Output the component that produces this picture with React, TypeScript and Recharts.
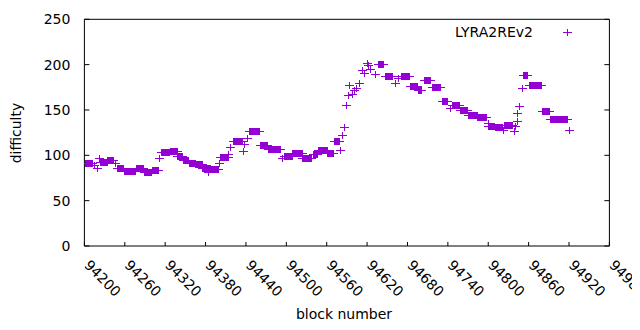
import React from 'react';
import { ScatterChart, Scatter, XAxis, YAxis } from 'recharts';

// Runs of constant difficulty: first block, last block, value
const runStart = [
  94201, 94214, 94218, 94222, 94223, 94234, 94245, 94249, 94259, 94277,
  94289, 94300, 94311, 94314, 94327, 94338, 94346, 94355, 94365, 94375,
  94384, 94387, 94400, 94401, 94414, 94417, 94421, 94435, 94437, 94441,
  94445, 94461, 94473, 94493, 94497, 94509, 94524, 94539, 94547, 94561,
  94571, 94580, 94582, 94585, 94589, 94591, 94593, 94598, 94601, 94603,
  94608, 94613, 94616, 94620, 94622, 94625, 94632, 94636, 94646, 94661,
  94666, 94670, 94684, 94695, 94705, 94716, 94731, 94743, 94746, 94748,
  94758, 94770, 94784, 94799, 94800, 94810, 94822, 94823, 94838, 94840,
  94842, 94843, 94846, 94850, 94852, 94860, 94880, 94892, 94920,
];
const runEnd = [
  94212, 94215, 94218, 94222, 94233, 94243, 94245, 94258, 94275, 94287,
  94299, 94309, 94311, 94326, 94337, 94345, 94354, 94364, 94374, 94386,
  94384, 94398, 94400, 94413, 94414, 94417, 94434, 94435, 94437, 94441,
  94460, 94472, 94490, 94493, 94508, 94523, 94537, 94546, 94560, 94570,
  94578, 94580, 94582, 94585, 94589, 94591, 94593, 94598, 94601, 94603,
  94608, 94613, 94616, 94620, 94622, 94625, 94632, 94644, 94657, 94661,
  94666, 94683, 94694, 94700, 94713, 94728, 94739, 94743, 94746, 94757,
  94769, 94783, 94797, 94799, 94809, 94821, 94822, 94836, 94838, 94840,
  94842, 94843, 94846, 94850, 94858, 94878, 94890, 94917, 94920,
];
const runValue = [
  91.5, 89, 86.5, 97.5, 92.5, 94.5, 92, 86, 82.5, 85.5,
  81.5, 83.5, 96.5, 103.3, 104.7, 99, 95, 91, 90, 86.4,
  82, 84.5, 91, 98, 102, 109.5, 115.3, 104.5, 112, 118.6,
  126.4, 111.3, 107.5, 96.5, 99.5, 102.2, 97.5, 101.5, 105.8, 102.2,
  115.4, 105.8, 122.4, 131, 155.4, 166.5, 177.5, 167.2, 171.5, 174.5,
  179.4, 194, 190.4, 201.4, 199.5, 195, 190, 200.5, 188, 180,
  185, 188, 176.5, 172.5, 183, 175, 160, 152, 155, 155.5,
  149.5, 144.8, 142, 135.5, 132.5, 131.5, 127.5, 133.5, 127.2, 132,
  138, 146.3, 154.3, 174, 188.2, 177.2, 148.7, 139.8, 128,
];

const xTicks = [94200, 94260, 94320, 94380, 94440, 94500, 94560, 94620, 94680, 94740, 94800, 94860, 94920, 94980];
const yTicks = [0, 50, 100, 150, 200, 250];
const seriesName = 'LYRA2REv2';

const COLOR = '#9400D3';
const FONT = 'DejaVu Sans';

const points: { block: number; difficulty: number }[] = [];
runStart.forEach((s, i) => {
  for (let b = s; b <= runEnd[i]; b++) points.push({ block: b, difficulty: runValue[i] });
});

const crossPath = (cx: number, cy: number) => {
  const x = Math.round(cx) + 0.5;
  const y = Math.round(cy) + 0.5;
  return `M${x - 4.5},${y}H${x + 4.5}M${x},${y - 3.5}V${y + 3.5}`;
};

const Cross = (props: any) => {
  const { cx, cy } = props;
  if (cx == null || cy == null) return null;
  return <path d={crossPath(cx, cy)} stroke={COLOR} strokeWidth={1} fill="none" />;
};

const BottomTick = (props: any) => {
  const { x, y, payload } = props;
  const ax = x - 1;
  const ay = y + 20;
  return (
    <g>
      <line x1={x} y1={y} x2={x} y2={y - 4} stroke="#000" />
      <text x={ax} y={ay} transform={`rotate(45, ${ax}, ${ay})`} fontSize={14} fontFamily={FONT} fill="#000">
        {payload.value}
      </text>
    </g>
  );
};

const TopTick = (props: any) => {
  const { x, y } = props;
  return <line x1={x} y1={y} x2={x} y2={y + 4} stroke="#000" />;
};

const LeftTick = (props: any) => {
  const { x, y, payload } = props;
  return (
    <g>
      <line x1={x} y1={y} x2={x + 5} y2={y} stroke="#000" />
      <text x={x - 14} y={y} dy="0.36em" textAnchor="end" fontSize={14} fontFamily={FONT} fill="#000">
        {payload.value}
      </text>
    </g>
  );
};

const RightTick = (props: any) => {
  const { x, y } = props;
  return <line x1={x} y1={y} x2={x - 5} y2={y} stroke="#000" />;
};

export default function App() {
  return (
    <div style={{ width: 632, height: 314 }}>
      <ScatterChart width={632} height={314} margin={{ top: 0, right: 0, bottom: 0, left: 0 }}>
        <XAxis
          dataKey="block"
          type="number"
          domain={[94200, 94980]}
          ticks={xTicks}
          allowDataOverflow
          height={76}
          tickSize={0}
          tickMargin={0}
          tickLine={false}
          axisLine={{ stroke: '#000' }}
          tick={<BottomTick />}
          interval={0}
        />
        <XAxis
          xAxisId="top"
          orientation="top"
          type="number"
          domain={[94200, 94980]}
          ticks={xTicks}
          allowDataOverflow
          height={11.3}
          tickSize={0}
          tickMargin={0}
          tickLine={false}
          axisLine={{ stroke: '#000' }}
          tick={<TopTick />}
          interval={0}
        />
        <YAxis
          dataKey="difficulty"
          type="number"
          domain={[0, 250]}
          ticks={yTicks}
          allowDataOverflow
          width={76.4}
          tickSize={0}
          tickMargin={0}
          tickLine={false}
          axisLine={{ stroke: '#000' }}
          tick={<LeftTick />}
          interval={0}
        />
        <YAxis
          yAxisId="right"
          orientation="right"
          type="number"
          domain={[0, 250]}
          ticks={yTicks}
          allowDataOverflow
          width={30.6}
          tickSize={0}
          tickMargin={0}
          tickLine={false}
          axisLine={{ stroke: '#000' }}
          tick={<RightTick />}
          interval={0}
        />
        <Scatter name={seriesName} data={points} shape={<Cross />} fill={COLOR} isAnimationActive={false} />
        <text x={336} y={310.5} textAnchor="middle" fontSize={14} fontFamily={FONT} fill="#000">
          block number
        </text>
        <text x={13} y={125} transform="rotate(-90, 13, 125)" textAnchor="middle" fontSize={14} fontFamily={FONT} fill="#000">
          difficulty
        </text>
        <text x={525} y={29} textAnchor="end" fontSize={14} fontFamily={FONT} fill="#000">
          {seriesName}
        </text>
        <path d={crossPath(558.5, 24.3)} stroke={COLOR} strokeWidth={1} fill="none" />
      </ScatterChart>
    </div>
  );
}
